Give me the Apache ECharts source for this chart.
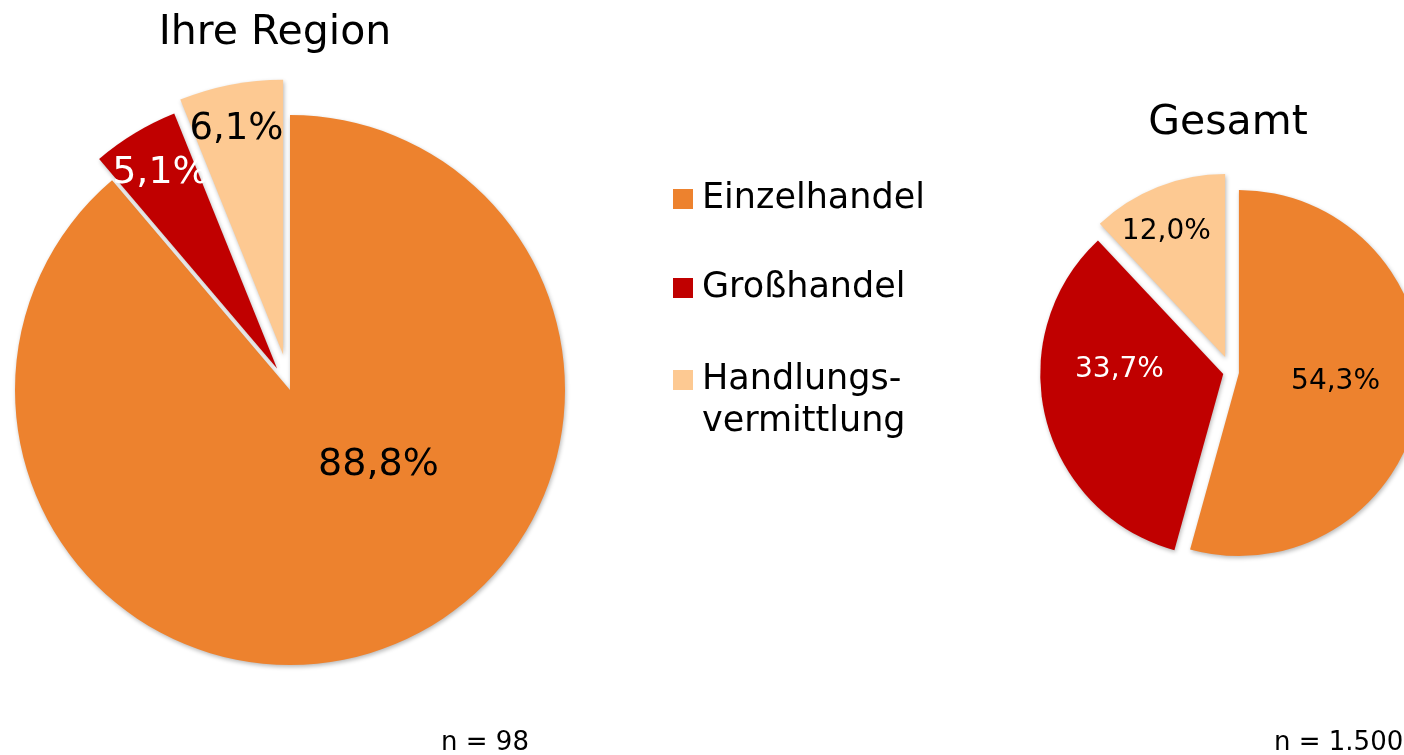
<!DOCTYPE html>
<html>
<head>
<meta charset="utf-8">
<script src="https://cdn.jsdelivr.net/npm/echarts@6/dist/echarts.min.js"></script>
<style>
html,body{margin:0;padding:0;background:#fff;}
#chart{width:1404px;height:755px;}
</style>
</head>
<body>
<div id="chart"></div>
<script>
// ---- data ----
const categories = ['Einzelhandel', 'Großhandel', 'Handlungs-\nvermittlung'];
const regionValues = [88.8, 5.1, 6.1];
const gesamtValues = [54.3, 33.7, 12.0];
const chartTitles = ['Ihre Region', 'Gesamt'];
const sampleNotes = ['n = 98', 'n = 1.500'];

// ---- styles ----
const colors = ['#ED822E', '#C00000', '#FDC992'];
const labelColors = ['#000', '#fff', '#000'];
const FONT = 'DejaVu Sans';
const shadow = {shadowBlur: 4, shadowOffsetX: 1, shadowOffsetY: 2, shadowColor: 'rgba(0,0,0,0.28)'};

function fmt(v) { return v.toFixed(1).replace('.', ',') + '%'; }

// build a pie layer: `show` flags which slices this layer draws, `sel` which are exploded
function layer(values, center, radius, offset, show, sel, fontSize, labelShift) {
  return {
    type: 'pie',
    center: center,
    radius: radius,
    startAngle: 90,
    clockwise: true,
    selectedMode: 'multiple',
    selectedOffset: offset,
    avoidLabelOverlap: false,
    animation: false,
    emphasis: {disabled: true},
    label: {show: true, position: 'inside', fontFamily: FONT, fontSize: fontSize,
            formatter: p => fmt(p.value)},
    labelLine: {show: false},
    labelLayout: p => ({dx: labelShift[p.dataIndex][0], dy: labelShift[p.dataIndex][1]}),
    data: categories.map((c, i) => ({
      name: c,
      value: values[i],
      selected: sel[i],
      itemStyle: show[i] ? Object.assign({color: colors[i]}, shadow) : {color: 'rgba(0,0,0,0)'},
      label: show[i] ? {color: labelColors[i]} : {show: false}
    }))
  };
}

const chart = echarts.init(document.getElementById('chart'), null, {renderer: 'canvas'});

const legendTops = [174, 263, 354];
const legends = categories.map((c, i) => ({
  left: 668,
  top: legendTops[i],
  orient: 'vertical',
  // last entry has two text lines; its square sits at the top, beside the first line
  icon: i === 2 ? 'path://M0,0L20,0L20,20L0,20Z M0,62L20,62' : 'rect',
  itemWidth: 20,
  itemHeight: i === 2 ? 62 : 20,
  selectedMode: false,
  itemStyle: {borderWidth: 0},
  data: [{name: c, itemStyle: {color: colors[i], borderWidth: 0}}],
  textStyle: {fontFamily: FONT, fontSize: 35, color: '#000',
              lineHeight: i === 2 ? 42 : 40, padding: [0, 0, 0, 4]}
}));

const option = {
  backgroundColor: '#fff',
  textStyle: {fontFamily: FONT},
  title: [
    {text: chartTitles[0], left: 270, top: 8, textAlign: 'center',
     textStyle: {fontFamily: FONT, fontSize: 41, fontWeight: 'normal', color: '#000'}},
    {text: chartTitles[1], left: 1223, top: 98, textAlign: 'center',
     textStyle: {fontFamily: FONT, fontSize: 41, fontWeight: 'normal', color: '#000'}},
    {text: sampleNotes[0], left: 480, top: 725, textAlign: 'center',
     textStyle: {fontFamily: FONT, fontSize: 26, fontWeight: 'normal', color: '#000'}},
    {text: sampleNotes[1], left: 1269, top: 725,
     textStyle: {fontFamily: FONT, fontSize: 26, fontWeight: 'normal', color: '#000'}}
  ],
  legend: legends,
  series: [
    layer(regionValues, [290, 390], 275, 25, [true, true, false], [false, true, false], 38,
          [[40, -57], [-44, -75], [0, 0]]),
    layer(regionValues, [290, 390], 275, 36, [false, false, true], [false, false, true], 37,
          [[0, 0], [0, 0], [-20, -87]]),
    layer(gesamtValues, [1231, 372], 183, 8, [true, true, false], [true, true, false], 28,
          [[3, -4], [-12, -27], [0, 0]]),
    layer(gesamtValues, [1231, 372], 183, 16, [false, false, true], [false, false, true], 28,
          [[0, 0], [0, 0], [-24, -38]])
  ]
};
chart.setOption(option);
</script>
</body>
</html>
